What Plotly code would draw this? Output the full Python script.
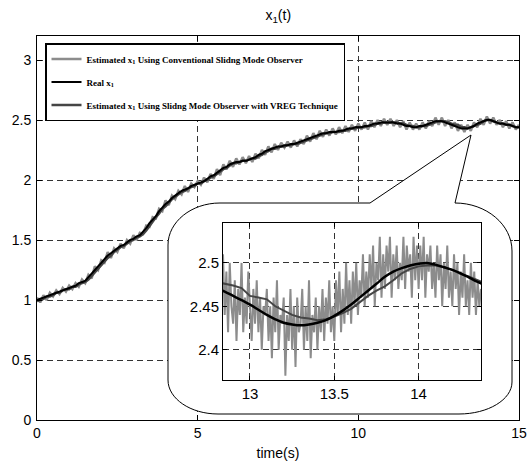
import numpy as np
import plotly.graph_objects as go

# ---------------- data ----------------
t_main = np.round(np.arange(151) * 0.1, 1)

real_main = [
    1.00, 1.01, 1.02, 1.03, 1.04, 1.05, 1.06, 1.07, 1.08, 1.09,
    1.10, 1.11, 1.12, 1.14, 1.15, 1.16, 1.19, 1.22, 1.25, 1.28,
    1.31, 1.34, 1.37, 1.39, 1.41, 1.43, 1.45, 1.46, 1.48, 1.50,
    1.51, 1.53, 1.54, 1.57, 1.60, 1.64, 1.67, 1.70, 1.74, 1.77,
    1.80, 1.82, 1.85, 1.87, 1.89, 1.91, 1.92, 1.93, 1.95, 1.96,
    1.97, 1.98, 1.99, 2.01, 2.03, 2.04, 2.06, 2.08, 2.10, 2.11,
    2.13, 2.14, 2.15, 2.15, 2.16, 2.16, 2.17, 2.18, 2.19, 2.21,
    2.22, 2.24, 2.25, 2.26, 2.27, 2.28, 2.28, 2.29, 2.29, 2.30,
    2.30, 2.31, 2.32, 2.33, 2.34, 2.35, 2.36, 2.37, 2.38, 2.39,
    2.39, 2.40, 2.40, 2.40, 2.41, 2.41, 2.42, 2.43, 2.43, 2.44,
    2.44, 2.44, 2.45, 2.45, 2.46, 2.47, 2.47, 2.48, 2.48, 2.48,
    2.48, 2.48, 2.47, 2.47, 2.46, 2.45, 2.45, 2.44, 2.44, 2.45,
    2.45, 2.46, 2.47, 2.48, 2.49, 2.49, 2.49, 2.48, 2.47, 2.46,
    2.45, 2.44, 2.43, 2.43, 2.43, 2.44, 2.45, 2.47, 2.48, 2.49,
    2.50, 2.50, 2.49, 2.48, 2.47, 2.47, 2.46, 2.46, 2.45, 2.44,
    2.44,
]

conv_main = [
    1.02, 0.98, 1.04, 1.00, 1.06, 1.03, 1.08, 1.05, 1.10, 1.07,
    1.12, 1.09, 1.14, 1.11, 1.17, 1.14, 1.21, 1.18, 1.28, 1.25,
    1.33, 1.31, 1.40, 1.35, 1.43, 1.40, 1.47, 1.43, 1.50, 1.47,
    1.54, 1.50, 1.56, 1.55, 1.62, 1.61, 1.69, 1.68, 1.76, 1.74,
    1.83, 1.79, 1.87, 1.84, 1.91, 1.88, 1.95, 1.90, 1.97, 1.94,
    1.99, 1.96, 2.02, 1.98, 2.05, 2.01, 2.09, 2.04, 2.13, 2.09,
    2.16, 2.11, 2.18, 2.13, 2.19, 2.14, 2.20, 2.15, 2.22, 2.18,
    2.25, 2.21, 2.28, 2.23, 2.30, 2.25, 2.31, 2.27, 2.32, 2.27,
    2.33, 2.28, 2.34, 2.30, 2.37, 2.32, 2.39, 2.34, 2.41, 2.36,
    2.42, 2.37, 2.43, 2.38, 2.44, 2.39, 2.45, 2.40, 2.46, 2.41,
    2.47, 2.42, 2.48, 2.42, 2.49, 2.44, 2.50, 2.45, 2.51, 2.46,
    2.51, 2.45, 2.50, 2.44, 2.49, 2.42, 2.48, 2.42, 2.47, 2.42,
    2.48, 2.43, 2.49, 2.45, 2.52, 2.46, 2.52, 2.45, 2.50, 2.43,
    2.48, 2.41, 2.46, 2.40, 2.46, 2.41, 2.48, 2.44, 2.51, 2.46,
    2.53, 2.47, 2.52, 2.46, 2.50, 2.44, 2.49, 2.43, 2.48, 2.42,
    2.46,
]

vreg_main = [
    0.99, 1.00, 1.01, 1.03, 1.03, 1.04, 1.06, 1.06, 1.08, 1.09,
    1.09, 1.11, 1.11, 1.13, 1.14, 1.15, 1.17, 1.20, 1.23, 1.26,
    1.29, 1.32, 1.35, 1.37, 1.40, 1.42, 1.44, 1.45, 1.47, 1.49,
    1.50, 1.52, 1.53, 1.55, 1.58, 1.62, 1.65, 1.69, 1.72, 1.76,
    1.78, 1.81, 1.84, 1.86, 1.88, 1.90, 1.91, 1.93, 1.94, 1.95,
    1.97, 1.97, 1.99, 2.00, 2.02, 2.03, 2.05, 2.07, 2.09, 2.10,
    2.12, 2.14, 2.14, 2.15, 2.16, 2.16, 2.17, 2.18, 2.18, 2.20,
    2.21, 2.23, 2.24, 2.26, 2.26, 2.27, 2.28, 2.28, 2.29, 2.29,
    2.30, 2.30, 2.31, 2.32, 2.33, 2.34, 2.35, 2.36, 2.37, 2.38,
    2.39, 2.39, 2.40, 2.40, 2.40, 2.41, 2.41, 2.42, 2.43, 2.43,
    2.44, 2.44, 2.44, 2.45, 2.45, 2.46, 2.47, 2.47, 2.48, 2.48,
    2.48, 2.48, 2.48, 2.47, 2.47, 2.46, 2.45, 2.45, 2.44, 2.44,
    2.45, 2.45, 2.46, 2.47, 2.48, 2.49, 2.49, 2.49, 2.48, 2.47,
    2.46, 2.46, 2.44, 2.44, 2.43, 2.44, 2.45, 2.46, 2.47, 2.49,
    2.50, 2.50, 2.49, 2.48, 2.47, 2.47, 2.46, 2.46, 2.45, 2.44,
    2.44,
]

# zoomed window (inset)
t_zoom = np.round(12.80 + 0.05 * np.arange(33), 2)
real_zoom = [
    2.471, 2.467, 2.462, 2.457, 2.452, 2.446, 2.440, 2.435, 2.431, 2.429,
    2.428, 2.429, 2.431, 2.434, 2.439, 2.445, 2.452, 2.460, 2.468, 2.476,
    2.484, 2.490, 2.494, 2.497, 2.499, 2.500, 2.498, 2.495, 2.492, 2.488,
    2.483, 2.478, 2.474,
]
vreg_zoom = [
    2.478, 2.476, 2.474, 2.471, 2.462, 2.460, 2.458, 2.450, 2.445, 2.440,
    2.437, 2.436, 2.434, 2.435, 2.438, 2.442, 2.447, 2.455, 2.462, 2.468,
    2.473, 2.480, 2.488, 2.493, 2.496, 2.497, 2.497, 2.495, 2.492, 2.487,
    2.484, 2.480, 2.476,
]
t_zoom_conv = np.round(12.84 + 0.01 * np.arange(154), 2)
conv_zoom = [
    2.51, 2.44, 2.49, 2.42, 2.50, 2.45,
    2.43, 2.48, 2.41, 2.47, 2.44, 2.50, 2.42, 2.46, 2.43, 2.49,
    2.45, 2.41, 2.47, 2.43, 2.48, 2.42, 2.46, 2.40, 2.45, 2.44,
    2.47, 2.41, 2.45, 2.39, 2.46, 2.42, 2.48, 2.40, 2.44, 2.43,
    2.46, 2.37, 2.44, 2.41, 2.47, 2.40, 2.45, 2.38, 2.46, 2.42,
    2.43, 2.47, 2.40, 2.45, 2.41, 2.48, 2.39, 2.44, 2.42, 2.46,
    2.40, 2.45, 2.42, 2.47, 2.41, 2.46, 2.43, 2.48, 2.42, 2.45,
    2.41, 2.48, 2.44, 2.49, 2.42, 2.47, 2.43, 2.50, 2.44, 2.48,
    2.43, 2.49, 2.45, 2.50, 2.44, 2.48, 2.46, 2.51, 2.45, 2.49,
    2.46, 2.51, 2.47, 2.52, 2.45, 2.50, 2.48, 2.53, 2.46, 2.51,
    2.47, 2.52, 2.49, 2.53, 2.46, 2.51, 2.48, 2.52, 2.47, 2.50,
    2.48, 2.53, 2.47, 2.52, 2.49, 2.51, 2.46, 2.53, 2.48, 2.52,
    2.47, 2.52, 2.48, 2.53, 2.46, 2.51, 2.49, 2.52, 2.47, 2.50,
    2.46, 2.52, 2.48, 2.51, 2.45, 2.50, 2.47, 2.52, 2.46, 2.49,
    2.45, 2.51, 2.47, 2.50, 2.44, 2.49, 2.46, 2.51, 2.45, 2.48,
    2.44, 2.50, 2.46, 2.49, 2.44, 2.48, 2.45, 2.47,
]

legend_names = [
    "Estimated x<sub>1</sub> Using Conventional Slidng Mode Observer",
    "Real x<sub>1</sub>",
    "Estimated x<sub>1</sub> Using Slidng Mode Observer with VREG Technique",
]
main_xticks = [0, 5, 10, 15]
main_yticks = [0, 0.5, 1, 1.5, 2, 2.5, 3]
zoom_xticks = [13, 13.5, 14]
zoom_yticks = [2.4, 2.45, 2.5]

# ---------------- styling ----------------
C_CONV = "#8c8c8c"
C_REAL = "#000000"
C_VREG = "#454545"
W, H = 528, 466
ML, MR, MT, MB = 37, 9, 36, 46
XR = [0, 15]
YR = [0, 3.2]

fig = go.Figure()
fig.add_trace(go.Scatter(x=t_main, y=conv_main, mode="lines", name=legend_names[0],
                         line=dict(color=C_CONV, width=2.5), legendrank=1, legendgroup="a"))
fig.add_trace(go.Scatter(x=t_main, y=vreg_main, mode="lines", name=legend_names[2],
                         line=dict(color=C_VREG, width=2.5), legendrank=3, legendgroup="c"))
fig.add_trace(go.Scatter(x=t_main, y=real_main, mode="lines", name=legend_names[1],
                         line=dict(color=C_REAL, width=2, shape="spline"), legendrank=2, legendgroup="b"))

fig.add_trace(go.Scatter(x=t_zoom_conv, y=conv_zoom, mode="lines", showlegend=False,
                         line=dict(color=C_CONV, width=2), xaxis="x2", yaxis="y2"))
fig.add_trace(go.Scatter(x=t_zoom, y=vreg_zoom, mode="lines", showlegend=False,
                         line=dict(color=C_VREG, width=2), xaxis="x2", yaxis="y2"))
fig.add_trace(go.Scatter(x=t_zoom, y=real_zoom, mode="lines", showlegend=False,
                         line=dict(color=C_REAL, width=2.5, shape="spline"), xaxis="x2", yaxis="y2"))

# callout bubble, defined in pixels of the page then mapped to main data coords
pw = W - ML - MR
ph = H - MT - MB


def p2d(px, py):
    x = XR[0] + (px - ML) / pw * (XR[1] - XR[0])
    y = YR[0] + (H - MB - py) / ph * (YR[1] - YR[0])
    return f"{x:.4f},{y:.4f}"


L, R, T, B = 168, 512, 203, 414
k = 0.45
segs = []
segs.append("M " + p2d(L + 52, T))
segs.append("L " + p2d(370, T))
segs.append("L " + p2d(471, 135))
segs.append("L " + p2d(455, T))
segs.append("C " + p2d(455 + (R - 455) * (1 - k), T) + " " + p2d(R, T + 48 * k) + " " + p2d(R, T + 48))
segs.append("L " + p2d(R, B - 32))
segs.append("C " + p2d(R, B - 32 * k) + " " + p2d(R - 53 * k, B) + " " + p2d(R - 53, B))
segs.append("L " + p2d(L + 50, B))
segs.append("C " + p2d(L + 50 * k, B) + " " + p2d(L, B - 34 * k) + " " + p2d(L, B - 34))
segs.append("L " + p2d(L, T + 42))
segs.append("C " + p2d(L, T + 42 * k) + " " + p2d(L + 52 * k, T) + " " + p2d(L + 52, T))
segs.append("Z")
fig.add_shape(type="path", path=" ".join(segs), xref="x", yref="y",
              line=dict(color="black", width=1), fillcolor="white", layer="between")

grid_dash = "6px,4px"
tick_font = dict(family="Liberation Sans, Arial", size=14, color="black")
fig.update_layout(
    width=W, height=H,
    margin=dict(l=ML, r=MR, t=MT, b=MB),
    paper_bgcolor="white", plot_bgcolor="white",
    title=dict(text="x<sub>1</sub>(t)", x=0.527, xanchor="center", y=1 - 15 / H, yanchor="middle",
               font=dict(family="Liberation Sans, Arial", size=14, color="black")),
    xaxis=dict(range=XR, tickvals=main_xticks, ticks="inside", ticklen=5, tickcolor="black",
               showline=True, linecolor="black", linewidth=1, mirror="ticks",
               showgrid=True, gridcolor="#333", griddash=grid_dash, gridwidth=1,
               zeroline=False, tickfont=tick_font, automargin=False,
               title=dict(text="time(s)", font=tick_font, standoff=8)),
    yaxis=dict(range=YR, tickvals=main_yticks, ticks="inside", ticklen=5, tickcolor="black",
               showline=True, linecolor="black", linewidth=1, mirror="ticks",
               showgrid=True, gridcolor="#333", griddash=grid_dash, gridwidth=1,
               zeroline=False, tickfont=tick_font, ticklabelstandoff=2, automargin=False),
    xaxis2=dict(domain=[(223 - ML) / pw, (481 - ML) / pw], anchor="y2",
                range=[12.84, 14.37], tickvals=zoom_xticks, ticks="inside", ticklen=4, tickcolor="black",
                showline=True, linecolor="black", linewidth=1, mirror="ticks",
                showgrid=True, gridcolor="#333", griddash=grid_dash, gridwidth=1, automargin=False,
                zeroline=False, tickfont=dict(family="Liberation Sans, Arial", size=15, color="black")),
    yaxis2=dict(domain=[(H - MB - 380) / ph, (H - MB - 223) / ph], anchor="x2",
                range=[2.365, 2.546], tickvals=zoom_yticks, ticks="inside", ticklen=4, tickcolor="black",
                showline=True, linecolor="black", linewidth=1, mirror="ticks",
                showgrid=True, gridcolor="#333", griddash=grid_dash, gridwidth=1, automargin=False,
                zeroline=False, tickfont=dict(family="Liberation Sans, Arial", size=15, color="black")),
    legend=dict(x=(45 - ML) / pw, y=(H - MB - 43) / ph, xanchor="left", yanchor="top",
                bgcolor="white", bordercolor="black", borderwidth=1.5,
                font=dict(family="Liberation Serif, Times New Roman", size=9, color="black", weight="bold"),
                traceorder="grouped", tracegroupgap=4),
    showlegend=True,
)

fig.write_html("out.html")
